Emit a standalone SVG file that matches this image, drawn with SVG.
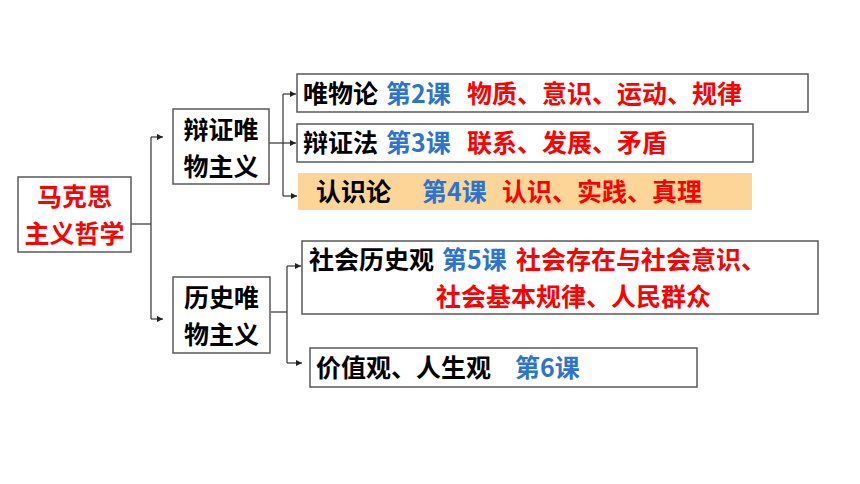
<svg xmlns="http://www.w3.org/2000/svg" width="860" height="484" viewBox="0 0 860 484">
<defs>
<marker id="ah" viewBox="0 0 10 10" refX="10" refY="5" markerWidth="6" markerHeight="6" markerUnits="userSpaceOnUse" orient="auto">
<path d="M0,0 L10,5 L0,10 z" fill="#222"/>
</marker>
<style>
.box{fill:#fff;stroke:#5a5a5a;stroke-width:1.5}
.t{font-family:"Noto Sans CJK SC","Noto Sans",sans-serif;font-weight:bold;font-size:25px}
.k{fill:#000}
.b{fill:#2E74CF}
.r{fill:#FF0000}
.ln{fill:none;stroke:#333;stroke-width:1.2}
</style>
</defs>
<rect width="860" height="484" fill="#fff"/>
<g id="connectors">
<path class="ln" d="M131,224 H151"/>
<path class="ln" d="M151,137 V319"/>
<path class="ln" d="M151,137 H163" marker-end="url(#ah)"/>
<path class="ln" d="M151,319 H163" marker-end="url(#ah)"/>
<path class="ln" d="M269,143 H283"/>
<path class="ln" d="M283,94 V196"/>
<path class="ln" d="M283,94 H296" marker-end="url(#ah)"/>
<path class="ln" d="M283,143 H296" marker-end="url(#ah)"/>
<path class="ln" d="M283,196 H297" marker-end="url(#ah)"/>
<path class="ln" d="M271,312 H287"/>
<path class="ln" d="M287,266 V363"/>
<path class="ln" d="M287,266 H301" marker-end="url(#ah)"/>
<path class="ln" d="M287,363 H302" marker-end="url(#ah)"/>
</g>
<g id="root">
<rect class="box" x="18" y="177" width="113" height="75"/>
<text class="t r" x="74.5" y="206" text-anchor="middle">马克思</text>
<text class="t r" x="74.5" y="243" text-anchor="middle">主义哲学</text>
</g>
<g id="dialectical">
<rect class="box" x="173" y="109" width="96" height="75"/>
<text class="t k" x="221" y="139" text-anchor="middle">辩证唯</text>
<text class="t k" x="221" y="176" text-anchor="middle">物主义</text>
</g>
<g id="historical">
<rect class="box" x="173" y="277" width="97" height="76"/>
<text class="t k" x="221.5" y="307" text-anchor="middle">历史唯</text>
<text class="t k" x="221.5" y="344" text-anchor="middle">物主义</text>
</g>
<g id="materialism">
<rect class="box" x="297" y="74" width="511" height="38"/>
<text class="t" y="103"><tspan class="k" x="303">唯物论</tspan><tspan class="b" x="386">第2课</tspan><tspan class="r" x="467">物质、意识、运动、规律</tspan></text>
</g>
<g id="dialectics">
<rect class="box" x="297" y="124" width="456" height="38"/>
<text class="t" y="152"><tspan class="k" x="303">辩证法</tspan><tspan class="b" x="386">第3课</tspan><tspan class="r" x="467">联系、发展、矛盾</tspan></text>
</g>
<g id="epistemology">
<rect x="298" y="173" width="454" height="37" fill="#FCD598"/>
<text class="t" y="201"><tspan class="k" x="316">认识论</tspan><tspan class="b" x="422">第4课</tspan><tspan class="r" x="502">认识、实践、真理</tspan></text>
</g>
<g id="social-history">
<rect class="box" x="302" y="241" width="516" height="73"/>
<text class="t" y="269"><tspan class="k" x="309">社会历史观</tspan><tspan class="b" x="442">第5课</tspan><tspan class="r" x="516">社会存在与社会意识、</tspan></text>
<text class="t r" x="436" y="306">社会基本规律、人民群众</text>
</g>
<g id="values">
<rect class="box" x="310" y="348" width="387" height="39"/>
<text class="t" y="377"><tspan class="k" x="316">价值观、人生观</tspan><tspan class="b" x="515">第6课</tspan></text>
</g>
</svg>
